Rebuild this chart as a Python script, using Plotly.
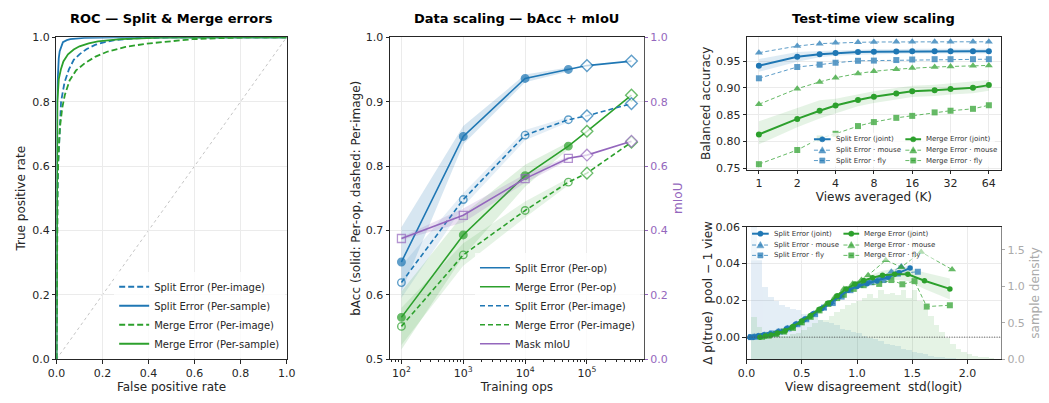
import plotly.graph_objects as go

W, H = 1049, 403
FONT = "DejaVu Sans"
BLUE, GREEN, PURPLE = "#1f77b4", "#2ca02c", "#9467bd"
AX = "#262626"
GRID = "#ebebeb"

# ---------------- Panel 1: ROC data ----------------
roc_split_img_fpr = [0, 0.001, 0.004, 0.007, 0.012, 0.02, 0.035, 0.054, 0.075, 0.10, 0.13, 0.17, 0.21, 0.26, 0.35, 0.5, 1.0]
roc_split_img_tpr = [0, 0.30, 0.50, 0.60, 0.70, 0.80, 0.86, 0.90, 0.93, 0.947, 0.963, 0.977, 0.985, 0.992, 0.997, 1.0, 1.0]
roc_split_smp_fpr = [0, 0.0005, 0.001, 0.002, 0.003, 0.005, 0.007, 0.010, 0.014, 0.02, 0.028, 0.045, 0.06, 0.12, 0.25, 1.0]
roc_split_smp_tpr = [0, 0.50, 0.65, 0.75, 0.80, 0.86, 0.90, 0.935, 0.957, 0.972, 0.985, 0.991, 0.994, 0.998, 1.0, 1.0]
roc_merge_img_fpr = [0, 0.002, 0.005, 0.008, 0.015, 0.025, 0.036, 0.057, 0.085, 0.124, 0.17, 0.22, 0.30, 0.39, 0.50, 0.59, 0.70, 0.85, 1.0]
roc_merge_img_tpr = [0, 0.40, 0.55, 0.62, 0.72, 0.78, 0.82, 0.866, 0.897, 0.92, 0.94, 0.955, 0.97, 0.98, 0.988, 0.994, 0.997, 1.0, 1.0]
roc_merge_smp_fpr = [0, 0.001, 0.002, 0.004, 0.010, 0.019, 0.030, 0.050, 0.075, 0.10, 0.14, 0.18, 0.28, 0.45, 0.60, 1.0]
roc_merge_smp_tpr = [0, 0.50, 0.70, 0.80, 0.87, 0.90, 0.925, 0.947, 0.962, 0.972, 0.981, 0.987, 0.994, 0.999, 1.0, 1.0]

# ---------------- Panel 2: data scaling ----------------
ops = [1e2, 1e3, 1e4, 5e4, 1e5, 5.24e5]
split_op = [0.651, 0.846, 0.936, 0.950, 0.956, 0.963]
merge_op = [0.565, 0.693, 0.785, 0.831, 0.854, 0.910]
split_img = [0.619, 0.748, 0.848, 0.872, 0.878, 0.897]
merge_img = [0.551, 0.662, 0.731, 0.775, 0.789, 0.837]
miou = [0.375, 0.447, 0.561, 0.624, 0.634, 0.677]
# bands over the first four sizes
split_op_lo = [0.605, 0.834, 0.930, 0.947]
split_op_hi = [0.705, 0.862, 0.942, 0.953]
merge_op_lo = [0.515, 0.660, 0.768, 0.826]
merge_op_hi = [0.605, 0.725, 0.802, 0.837]
split_img_lo = [0.595, 0.737, 0.840, 0.868]
split_img_hi = [0.645, 0.758, 0.856, 0.876]
merge_img_lo = [0.522, 0.645, 0.720, 0.770]
merge_img_hi = [0.580, 0.680, 0.745, 0.781]
miou_lo = [0.370, 0.425, 0.548, 0.618]
miou_hi = [0.380, 0.468, 0.575, 0.630]
ops_ticks = [1e2, 1e3, 1e4, 1e5]
ops_ticktext = ["10<sup>2</sup>", "10<sup>3</sup>", "10<sup>4</sup>", "10<sup>5</sup>"]

# ---------------- Panel 3: test-time view scaling ----------------
views = [1, 2, 3, 4, 6, 8, 12, 16, 24, 32, 48, 64]
split_joint = [0.9415, 0.958, 0.963, 0.965, 0.967, 0.9675, 0.968, 0.9685, 0.9685, 0.9685, 0.9685, 0.9685]
split_joint_lo = [0.930, 0.949, 0.957, 0.960, 0.962, 0.963, 0.964, 0.964, 0.964, 0.964, 0.964, 0.964]
split_joint_hi = [0.954, 0.967, 0.969, 0.970, 0.972, 0.972, 0.972, 0.973, 0.973, 0.973, 0.973, 0.973]
split_mouse = [0.9657, 0.978, 0.9826, 0.984, 0.985, 0.9856, 0.986, 0.986, 0.986, 0.986, 0.986, 0.986]
split_fly = [0.918, 0.939, 0.9434, 0.947, 0.9506, 0.951, 0.952, 0.953, 0.9536, 0.9536, 0.9536, 0.9536]
merge_joint = [0.8134, 0.8424, 0.8575, 0.8672, 0.8775, 0.8835, 0.8896, 0.8938, 0.8956, 0.898, 0.9005, 0.9053]
merge_joint_lo = [0.795, 0.827, 0.843, 0.853, 0.866, 0.872, 0.878, 0.883, 0.885, 0.888, 0.890, 0.895]
merge_joint_hi = [0.838, 0.862, 0.877, 0.880, 0.889, 0.894, 0.900, 0.904, 0.906, 0.909, 0.912, 0.915]
merge_mouse = [0.8696, 0.8986, 0.9113, 0.919, 0.927, 0.931, 0.935, 0.937, 0.939, 0.940, 0.9415, 0.942]
merge_fly = [0.758, 0.7844, 0.806, 0.8146, 0.829, 0.8364, 0.8443, 0.848, 0.8545, 0.8576, 0.8611, 0.8678]
views_ticks = [1, 2, 4, 8, 16, 32, 64]

# ---------------- Panel 4: gain vs disagreement ----------------
sj_x = [0.03, 0.06, 0.10, 0.15, 0.21, 0.28, 0.36, 0.44, 0.52, 0.60, 0.68, 0.76, 0.84, 0.92, 1.00, 1.09, 1.18, 1.28, 1.38, 1.48]
sj_y = [0.000, 0.000, 0.0005, 0.001, 0.0017, 0.0028, 0.0045, 0.0068, 0.0095, 0.0125, 0.0155, 0.0185, 0.0222, 0.0255, 0.0275, 0.029, 0.0305, 0.0325, 0.035, 0.0375]
sj_hw = [0.0003, 0.0003, 0.0003, 0.0004, 0.0004, 0.0005, 0.0005, 0.0006, 0.0006, 0.0007, 0.0008, 0.0008, 0.0009, 0.001, 0.001, 0.0012, 0.0013, 0.0015, 0.0017, 0.002]
sm_x = [0.03, 0.07, 0.11, 0.16, 0.22, 0.29, 0.37, 0.45, 0.53, 0.61, 0.69, 0.77, 0.85, 0.93, 1.01, 1.10, 1.20, 1.31, 1.40]
sm_y = [0.000, 0.0002, 0.0006, 0.0011, 0.0019, 0.003, 0.0048, 0.0072, 0.0098, 0.0128, 0.0158, 0.0188, 0.0228, 0.0262, 0.0285, 0.0302, 0.032, 0.0355, 0.0383]
sf_x = [0.04, 0.08, 0.12, 0.17, 0.23, 0.30, 0.38, 0.46, 0.54, 0.62, 0.70, 0.78, 0.86, 0.94, 1.03, 1.13, 1.24, 1.37, 1.55]
sf_y = [0.000, 0.0002, 0.0006, 0.0012, 0.002, 0.003, 0.0047, 0.007, 0.0097, 0.0125, 0.016, 0.0185, 0.022, 0.0255, 0.0283, 0.0298, 0.031, 0.0345, 0.0355]
mj_x = [0.12, 0.17, 0.22, 0.28, 0.35, 0.42, 0.50, 0.58, 0.66, 0.74, 0.82, 0.90, 0.98, 1.06, 1.14, 1.23, 1.34, 1.46, 1.61, 1.84]
mj_y = [0.000, 0.0006, 0.0012, 0.0022, 0.0035, 0.0058, 0.0087, 0.0118, 0.0152, 0.0185, 0.0225, 0.0262, 0.0288, 0.0308, 0.0322, 0.0336, 0.0341, 0.0341, 0.0306, 0.0262]
mj_hw = [0.0003, 0.0003, 0.0004, 0.0004, 0.0005, 0.0005, 0.0006, 0.0007, 0.0008, 0.0009, 0.001, 0.0012, 0.0014, 0.0017, 0.002, 0.0025, 0.003, 0.0036, 0.0045, 0.0057]
mm_x = [0.13, 0.19, 0.25, 0.32, 0.40, 0.48, 0.56, 0.64, 0.72, 0.80, 0.88, 0.96, 1.04, 1.10, 1.26, 1.40, 1.58, 1.86]
mm_y = [0.0002, 0.0008, 0.0016, 0.0028, 0.0048, 0.0076, 0.0108, 0.0142, 0.0178, 0.0218, 0.0262, 0.029, 0.031, 0.0336, 0.0418, 0.038, 0.0462, 0.0367]
mf_x = [0.14, 0.20, 0.27, 0.34, 0.42, 0.50, 0.58, 0.66, 0.74, 0.82, 0.88, 0.97, 1.06, 1.20, 1.31, 1.41, 1.52, 1.63, 1.84]
mf_y = [0.0002, 0.0008, 0.0017, 0.003, 0.005, 0.008, 0.011, 0.0145, 0.018, 0.0212, 0.023, 0.0262, 0.0282, 0.0289, 0.031, 0.0287, 0.0304, 0.0166, 0.0173]
hist_start, hist_width = 0.04, 0.05
split_density = [1.85, 1.37, 1.00, 0.86, 0.80, 0.75, 0.72, 0.70, 0.68, 0.62, 0.60, 0.58, 0.55, 0.52, 0.50, 0.47,
                 0.42, 0.40, 0.38, 0.36, 0.33, 0.30, 0.28, 0.25, 0.22, 0.20, 0.18, 0.15, 0.13, 0.11, 0.09, 0.07,
                 0.05, 0.04, 0.03, 0.02, 0.015, 0.01, 0.008, 0.006, 0.004, 0.003, 0.002, 0.001]
merge_density = [0.58, 0.45, 0.37, 0.35, 0.33, 0.33, 0.33, 0.35, 0.36, 0.40, 0.45, 0.50, 0.55, 0.55, 0.60, 0.65,
                 0.70, 0.75, 0.78, 0.80, 0.85, 0.90, 0.85, 0.95, 0.90, 0.92, 0.88, 0.95, 0.85, 0.95, 0.80, 0.70,
                 0.60, 0.48, 0.38, 0.30, 0.22, 0.15, 0.10, 0.07, 0.05, 0.04, 0.03, 0.02]


def X(px):  # pixel -> paper fraction
    return px / W


def Y(py):
    return 1 - py / H


def rgba(hexc, a):
    h = hexc.lstrip("#")
    return "rgba(%d,%d,%d,%.3f)" % (int(h[0:2], 16), int(h[2:4], 16), int(h[4:6], 16), a)


fig = go.Figure()


def band(x, lo, hi, color, alpha, xa, ya):
    fig.add_trace(go.Scatter(x=x, y=lo, mode="lines", line=dict(width=0, color=color), hoverinfo="skip",
                             showlegend=False, xaxis=xa, yaxis=ya))
    fig.add_trace(go.Scatter(x=x, y=hi, mode="lines", line=dict(width=0, color=color), fill="tonexty",
                             fillcolor=rgba(color, alpha), hoverinfo="skip", showlegend=False, xaxis=xa, yaxis=ya))


# ---------- Panel 1 ----------
for fpr, tpr, col, dash, name in [
    (roc_split_img_fpr, roc_split_img_tpr, BLUE, "6px,3px", "Split Error (Per-image)"),
    (roc_split_smp_fpr, roc_split_smp_tpr, BLUE, "solid", "Split Error (Per-sample)"),
    (roc_merge_img_fpr, roc_merge_img_tpr, GREEN, "6px,3px", "Merge Error (Per-image)"),
    (roc_merge_smp_fpr, roc_merge_smp_tpr, GREEN, "solid", "Merge Error (Per-sample)"),
]:
    fig.add_trace(go.Scatter(x=fpr, y=tpr, mode="lines", name=name, line=dict(color=col, width=1.8, dash=dash),
                             xaxis="x", yaxis="y", legend="legend"))

# ---------- Panel 2 ----------
n_b = len(split_op_lo)
band(ops[:n_b], split_op_lo, split_op_hi, BLUE, 0.18, "x2", "y2")
band(ops[:n_b], split_img_lo, split_img_hi, BLUE, 0.12, "x2", "y2")
band(ops[:n_b], merge_op_lo, merge_op_hi, GREEN, 0.15, "x2", "y2")
band(ops[:n_b], merge_img_lo, merge_img_hi, GREEN, 0.12, "x2", "y2")

n_last = len(ops) - n_b
series2 = [
    (split_op, BLUE, "solid", "Split Error (Per-op)", "filled"),
    (merge_op, GREEN, "solid", "Merge Error (Per-op)", "filled"),
    (split_img, BLUE, "5px,3px", "Split Error (Per-image)", "open"),
    (merge_img, GREEN, "5px,3px", "Merge Error (Per-image)", "open"),
]
for vals, col, dash, name, kind in series2:
    fig.add_trace(go.Scatter(x=ops, y=vals, mode="lines", name=name, line=dict(color=col, width=1.6, dash=dash),
                             xaxis="x2", yaxis="y2", legend="legend2"))
    if kind == "filled":
        syms = ["circle"] * n_b + ["diamond"] * n_last
    else:
        syms = ["circle-open"] * n_b + ["diamond"] * n_last
    cols = [col] * n_b + ["white"] * n_last
    sizes = [7.5] * n_b + [9] * n_last
    fig.add_trace(go.Scatter(x=ops, y=vals, mode="markers", showlegend=False,
                             marker=dict(symbol=syms, color=cols, size=sizes, line=dict(color=col, width=1.4)),
                             xaxis="x2", yaxis="y2"))

band(ops[:n_b], miou_lo, miou_hi, PURPLE, 0.2, "x2", "y3")
fig.add_trace(go.Scatter(x=ops, y=miou, mode="lines", name="Mask mIoU", line=dict(color=PURPLE, width=1.6),
                         xaxis="x2", yaxis="y3", legend="legend2"))
fig.add_trace(go.Scatter(x=ops, y=miou, mode="markers", showlegend=False,
                         marker=dict(symbol=["square-open"] * n_b + ["diamond"] * n_last,
                                     color=[PURPLE] * n_b + ["white"] * n_last,
                                     size=[8] * n_b + [9] * n_last, line=dict(color=PURPLE, width=1.3)),
                         xaxis="x2", yaxis="y3"))

# ---------- Panel 3 ----------
band(views, split_joint_lo, split_joint_hi, BLUE, 0.15, "x3", "y4")
band(views, merge_joint_lo, merge_joint_hi, GREEN, 0.12, "x3", "y4")
for vals, col, sym, dash, lw, size, op in [
    (split_mouse, BLUE, "triangle-up", "4px,2.5px", 1.0, 7, 0.72),
    (split_fly, BLUE, "square", "4px,2.5px", 1.0, 6, 0.72),
    (merge_mouse, GREEN, "triangle-up", "4px,2.5px", 1.0, 7, 0.72),
    (merge_fly, GREEN, "square", "4px,2.5px", 1.0, 6, 0.72),
    (split_joint, BLUE, "circle", "solid", 2.0, 6, 1.0),
    (merge_joint, GREEN, "circle", "solid", 2.0, 6, 1.0),
]:
    fig.add_trace(go.Scatter(x=views, y=vals, mode="lines+markers", showlegend=False, opacity=op,
                             line=dict(color=col, width=lw, dash=dash),
                             marker=dict(symbol=sym, size=size, color=col, line=dict(width=0)),
                             xaxis="x3", yaxis="y4"))

# ---------- Panel 4 ----------
bin_left = [hist_start + i * hist_width for i in range(len(split_density))]
fig.add_trace(go.Bar(x=bin_left, y=split_density, width=hist_width, offset=0,
                     marker=dict(color=rgba(BLUE, 0.12), line=dict(width=0)),
                     showlegend=False, hoverinfo="skip", xaxis="x4", yaxis="y5"))
bin_left_m = [hist_start + i * hist_width for i in range(len(merge_density))]
fig.add_trace(go.Bar(x=bin_left_m, y=merge_density, width=hist_width, offset=0,
                     marker=dict(color=rgba(GREEN, 0.12), line=dict(width=0)),
                     showlegend=False, hoverinfo="skip", xaxis="x4", yaxis="y5"))

band(sj_x, [a - b for a, b in zip(sj_y, sj_hw)], [a + b for a, b in zip(sj_y, sj_hw)], BLUE, 0.15, "x4", "y6")
band(mj_x, [a - b for a, b in zip(mj_y, mj_hw)], [a + b for a, b in zip(mj_y, mj_hw)], GREEN, 0.12, "x4", "y6")
for xs, ys, col, sym, dash, lw, size, op in [
    (sm_x, sm_y, BLUE, "triangle-up", "4px,2.5px", 1.0, 7, 0.72),
    (sf_x, sf_y, BLUE, "square", "4px,2.5px", 1.0, 6, 0.72),
    (mm_x, mm_y, GREEN, "triangle-up", "4px,2.5px", 1.0, 7, 0.72),
    (mf_x, mf_y, GREEN, "square", "4px,2.5px", 1.0, 6, 0.72),
    (sj_x, sj_y, BLUE, "circle", "solid", 2.0, 5.5, 1.0),
    (mj_x, mj_y, GREEN, "circle", "solid", 2.0, 5.5, 1.0),
]:
    fig.add_trace(go.Scatter(x=xs, y=ys, mode="lines+markers", showlegend=False, opacity=op,
                             line=dict(color=col, width=lw, dash=dash),
                             marker=dict(symbol=sym, size=size, color=col, line=dict(width=0)),
                             xaxis="x4", yaxis="y6"))

# ---------- axes ----------
tickfont = dict(family=FONT, size=11, color=AX)
titlefont = dict(family=FONT, size=12, color=AX)


def ax(**kw):
    d = dict(showline=True, linecolor=AX, linewidth=1, ticks="outside", ticklen=3.5, tickwidth=1, tickcolor=AX,
             showgrid=True, gridcolor=GRID, gridwidth=0.8, zeroline=False, tickfont=tickfont)
    d.update(kw)
    return d


fig.update_layout(
    width=W, height=H, margin=dict(l=0, r=0, t=0, b=0), paper_bgcolor="white", plot_bgcolor="white",
    font=dict(family=FONT, size=11, color=AX), barmode="overlay", bargap=0,
    xaxis=ax(domain=[X(48.3), X(282.5)], range=[0, 1], anchor="y", mirror=True,
             tickvals=[0, 0.2, 0.4, 0.6, 0.8, 1.0], tickformat=".1f",
             title=dict(text="False positive rate", font=titlefont, standoff=2)),
    yaxis=ax(domain=[Y(365), Y(32.3)], range=[0, 1], anchor="x", mirror=True,
             tickvals=[0, 0.2, 0.4, 0.6, 0.8, 1.0], tickformat=".1f",
             title=dict(text="True positive rate", font=titlefont, standoff=4)),
    xaxis2=ax(domain=[X(387.7), X(645.7)], type="log", range=[1.816, 5.916], anchor="y2", mirror=True,
              tickvals=ops_ticks, ticktext=ops_ticktext,
              minor=dict(ticks="outside", ticklen=2, tickcolor=AX, dtick="D1", showgrid=False),
              title=dict(text="Training ops", font=titlefont, standoff=1)),
    yaxis2=ax(domain=[Y(365), Y(32.3)], range=[0.5, 1.0], anchor="x2", dtick=0.1, tickformat=".1f",
              title=dict(text="bAcc (solid: Per-op, dashed: Per-image)", font=titlefont, standoff=2)),
    yaxis3=ax(overlaying="y2", side="right", anchor="x2", range=[0, 1], dtick=0.2, tickformat=".1f",
              showgrid=False, linecolor="#555555", tickcolor=PURPLE,
              tickfont=dict(family=FONT, size=11, color=PURPLE),
              title=dict(text="mIoU", font=dict(family=FONT, size=12, color=PURPLE), standoff=6)),
    xaxis3=ax(domain=[X(751), X(1009)], type="log", range=[-0.0926, 1.899], anchor="y4", mirror=True,
              tickvals=views_ticks, ticktext=[str(v) for v in views_ticks],
              title=dict(text="Views averaged (K)", font=titlefont, standoff=2)),
    yaxis4=ax(domain=[Y(169), Y(32)], range=[0.748, 0.995], anchor="x3", mirror=True,
              tickvals=[0.75, 0.80, 0.85, 0.90, 0.95], tickformat=".2f",
              title=dict(text="Balanced accuracy", font=titlefont, standoff=2)),
    xaxis4=ax(domain=[X(750.5), X(1009)], range=[0, 2.3], anchor="y5", mirror=True,
              tickvals=[0, 0.5, 1.0, 1.5, 2.0], tickformat=".1f",
              title=dict(text="View disagreement  std(logit)", font=titlefont, standoff=1)),
    yaxis5=ax(domain=[Y(365), Y(228)], range=[0, 1.82], anchor="x4", side="right", showgrid=False,
              tickvals=[0, 0.5, 1.0, 1.5], tickformat=".1f", linecolor="#888888", tickcolor="#aaaaaa",
              tickfont=dict(family=FONT, size=11, color="#aaaaaa"),
              title=dict(text="sample density", font=dict(family=FONT, size=12, color="#aaaaaa"), standoff=6)),
    yaxis6=ax(overlaying="y5", side="left", anchor="x4", range=[-0.012, 0.06],
              tickvals=[0, 0.02, 0.04, 0.06], tickformat=".2f",
              title=dict(text="Δ p(true)  pool − 1 view", font=titlefont, standoff=0)),
    legend=dict(x=X(281), y=Y(364), xanchor="right", yanchor="bottom", bgcolor="rgba(255,255,255,0.8)",
                borderwidth=0, traceorder="normal", font=dict(family=FONT, size=10, color=AX)),
    legend2=dict(x=X(642), y=Y(364), xanchor="right", yanchor="bottom", bgcolor="rgba(255,255,255,0.8)",
                 borderwidth=0, traceorder="normal", font=dict(family=FONT, size=10, color=AX)),
)

shapes = [
    dict(type="line", xref="x", yref="y", x0=0, y0=0, x1=1, y1=1, layer="below",
         line=dict(color="#b5b5b5", width=0.8, dash="dot")),
    dict(type="line", xref="x4 domain", yref="y6", x0=0, x1=1, y0=0, y1=0, layer="above",
         line=dict(color="#555555", width=1, dash="1px,1.5px")),
]
annots = []

for text, cx in [("ROC — Split & Merge errors", 165.4), ("Data scaling — bAcc + mIoU", 516.7),
                 ("Test-time view scaling", 880)]:
    annots.append(dict(text="<b>%s</b>" % text, x=X(cx), y=Y(13), xref="paper", yref="paper",
                       xanchor="center", yanchor="middle", showarrow=False,
                       font=dict(family=FONT, size=13, color="#000000")))


def leg_item(x0, x1, xt, yc, color, dash, symbol, text, opacity, lw):
    shapes.append(dict(type="line", xref="paper", yref="paper", x0=X(x0), x1=X(x1), y0=Y(yc), y1=Y(yc),
                       line=dict(color=color, width=lw, dash=dash), opacity=opacity))
    xc = (x0 + x1) / 2
    if symbol == "circle":
        r = 2.7
        shapes.append(dict(type="circle", xref="paper", yref="paper", x0=X(xc - r), x1=X(xc + r),
                           y0=Y(yc + r), y1=Y(yc - r), fillcolor=color, line=dict(color=color, width=0.5),
                           opacity=opacity))
    elif symbol == "triangle":
        pts = [(xc - 3.6, yc + 2.9), (xc + 3.6, yc + 2.9), (xc, yc - 3.6)]
        path = "M " + " L ".join("%.5f,%.5f" % (X(a), Y(b)) for a, b in pts) + " Z"
        shapes.append(dict(type="path", xref="paper", yref="paper", path=path, fillcolor=color,
                           line=dict(color=color, width=0.5), opacity=opacity))
    else:
        r = 2.7
        shapes.append(dict(type="rect", xref="paper", yref="paper", x0=X(xc - r), x1=X(xc + r),
                           y0=Y(yc + r), y1=Y(yc - r), fillcolor=color, line=dict(color=color, width=0.5),
                           opacity=opacity))
    annots.append(dict(text=text, x=X(xt), y=Y(yc), xref="paper", yref="paper", xanchor="left",
                       yanchor="middle", showarrow=False, font=dict(family=FONT, size=7, color="#333333")))


legend_entries = [
    ("Split Error (joint)", BLUE, "solid", "circle", 1.0, 2.0),
    ("Split Error · mouse", BLUE, "4px,2px", "triangle", 0.72, 1.0),
    ("Split Error · fly", BLUE, "4px,2px", "square", 0.72, 1.0),
    ("Merge Error (joint)", GREEN, "solid", "circle", 1.0, 2.0),
    ("Merge Error · mouse", GREEN, "4px,2px", "triangle", 0.72, 1.0),
    ("Merge Error · fly", GREEN, "4px,2px", "square", 0.72, 1.0),
]

# panel 3 legend
shapes.append(dict(type="rect", xref="paper", yref="paper", x0=X(815), x1=X(1003), y0=Y(166), y1=Y(131),
                   fillcolor="rgba(255,255,255,0.8)", line=dict(width=0)))
rows3 = [137.7, 149, 159.7]
for i, (text, col, dash, sym, op, lw) in enumerate(legend_entries):
    if i < 3:
        leg_item(819, 836, 839, rows3[i], col, dash, sym, text, op, lw)
    else:
        leg_item(912, 928, 931, rows3[i - 3], col, dash, sym, text, op, lw)

# panel 4 legend
shapes.append(dict(type="rect", xref="paper", yref="paper", x0=X(752), x1=X(960), y0=Y(263), y1=Y(229),
                   fillcolor="rgba(255,255,255,0.5)", line=dict(width=0)))
rows4 = [235.3, 247, 257.7]
for i, (text, col, dash, sym, op, lw) in enumerate(legend_entries):
    if i < 3:
        leg_item(756, 773, 776, rows4[i], col, dash, sym, text, op, lw)
    else:
        leg_item(849, 865, 868, rows4[i - 3], col, dash, sym, text, op, lw)

fig.update_layout(shapes=shapes, annotations=annots)
fig.write_html("out.html")
